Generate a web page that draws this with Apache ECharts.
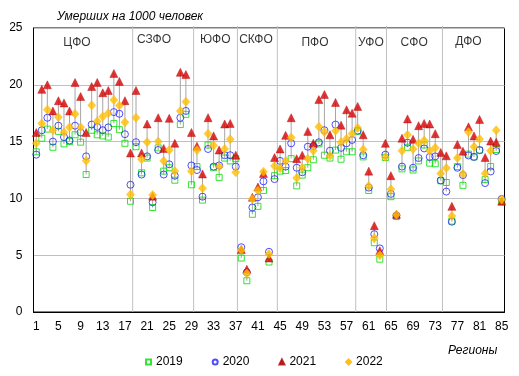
<!DOCTYPE html>
<html><head><meta charset="utf-8">
<script src="https://cdn.jsdelivr.net/npm/echarts@6/dist/echarts.min.js"></script>
<style>html,body{margin:0;padding:0;background:#fff}#c{width:519px;height:376px}</style>
</head><body><div id="c"></div>
<script>
// Mortality per 1000 population, regions 1..85
const y2019 = [14.1,15.3,16.1,14.5,15.9,14.8,15.0,15.6,14.95,12.1,16.0,15.6,15.5,15.4,16.6,16.05,14.85,9.75,
  14.55,12.25,13.55,9.2,14.45,12.4,12.7,11.6,16.5,17.4,11.2,
  12.8,9.85,14.7,12.7,11.85,13.55,13.3,13.5,
  4.75,2.75,8.6,9.3,10.7,4.4,12.0,
  12.4,12.45,13.5,11.1,12.05,12.7,13.4,14.8,13.8,13.55,14.25,13.45,14.1,14.1,
  15.9,13.65,10.7,6.1,4.65,13.6,
  10.15,8.4,12.6,14.5,12.5,13.3,14.7,13.1,13.05,11.55,
  11.4,8.0,12.8,11.15,13.9,13.65,14.25,11.65,12.8,14.3,9.7];
const y2020 = [13.85,16.0,17.1,15.0,16.4,15.4,15.1,16.4,15.8,13.7,16.5,16.3,16.0,16.25,17.6,17.45,15.65,11.2,
  14.95,12.1,13.7,9.65,14.26,12.1,13.0,12.0,17.1,17.7,12.9,
  12.5,10.15,14.35,12.8,12.9,13.8,13.8,12.8,
  5.7,3.5,9.2,10.1,11.5,5.3,11.7,
  13.3,12.8,14.85,12.7,12.3,14.55,14.6,14.94,16.0,14.2,16.5,14.45,14.85,15.15,
  15.97,13.8,10.95,6.85,5.6,13.85,
  10.4,8.5,12.8,14.9,12.7,13.55,14.4,13.65,13.7,11.58,
  10.6,7.95,12.7,12.05,13.78,13.65,14.25,11.35,12.37,14.17,9.95];
const y2021 = [15.8,19.6,20.0,17.7,18.6,18.4,17.7,20.2,18.97,15.8,19.85,20.2,19.3,19.5,21.0,20.3,18.6,14.0,
  19.5,14.0,16.55,10.2,17.1,14.4,17.05,14.85,21.1,20.9,15.8,
  14.6,12.15,17.1,15.5,14.26,16.55,16.6,13.8,
  5.5,3.76,10.1,11.0,12.2,4.75,13.6,
  14.35,15.55,17.1,13.5,13.8,15.9,14.85,18.7,19.15,15.6,18.45,16.45,17.8,17.5,
  18.1,15.6,12.4,7.6,5.4,14.85,
  12.0,8.6,15.3,17.0,15.2,16.4,16.6,16.55,15.7,14.05,
  13.75,9.3,14.75,14.15,16.3,15.5,16.95,13.6,15.05,14.94,9.75];
const y2022 = [14.85,16.6,17.8,16.0,17.15,15.8,16.26,17.44,16.26,13.32,18.2,16.8,17.2,17.5,18.67,18.17,16.7,10.35,
  17.1,13.45,14.95,10.3,15.0,13.3,14.26,12.4,17.7,18.5,12.4,
  14.25,10.9,15.7,14.65,12.8,14.35,15.2,12.3,
  5.45,3.38,9.95,10.7,12.35,5.1,12.85,
  12.65,13.3,15.35,11.8,12.7,13.5,14.2,16.3,15.85,13.75,15.95,14.94,15.25,15.7,
  16.2,14.3,11.1,6.5,5.0,13.65,
  10.8,8.55,14.2,15.6,14.35,14.85,15.1,14.2,14.45,12.2,
  12.67,8.45,13.55,12.15,15.85,14.55,15.22,12.2,14.2,16.0,9.9];

const seriesNames = ['2019','2020','2021','2022'];
const districts = ['ЦФО','СЗФО','ЮФО','СКФО','ПФО','УФО','СФО','ДФО'];
const districtX = [8.35,22.25,33.3,40.65,51.3,61.4,69.2,79.0];
const districtY = [23.73,24.0,24.0,24.0,23.73,23.73,23.73,23.8];
const separators = [18.4,29.4,37.3,44.5,58.65,64.2,74.3];
const regions = y2019.map((_, i) => String(i + 1));

const FONT = '"Liberation Sans", Arial, sans-serif';
const chart = echarts.init(document.getElementById('c'), null, {renderer:'canvas'});

const hiLo = regions.map((r, i) => {
  const v = [y2019[i], y2020[i], y2021[i], y2022[i]];
  return [i, Math.min.apply(null, v), Math.max.apply(null, v)];
});

const option = {
  animation: false,
  backgroundColor: '#fff',
  title: [
    {text: 'Умерших на 1000 человек', left: 57, top: 11, padding: 0,
     textStyle: {fontFamily: FONT, fontSize: 12, fontStyle: 'italic', fontWeight: 'normal', color: '#000'}},
    {text: 'Регионы', left: 448, top: 345, padding: 0,
     textStyle: {fontFamily: FONT, fontSize: 12, fontStyle: 'italic', fontWeight: 'normal', color: '#000'}}
  ],
  legend: {
    data: [{name:'2019', icon:'rect'},{name:'2020', icon:'circle'},{name:'2021', icon:'triangle'},{name:'2022', icon:'diamond'}],
    left: 145, top: 356, itemWidth: 5, itemHeight: 5, itemGap: 29, padding: 0,
    textStyle: {fontFamily: FONT, fontSize: 12, color: '#000'}
  },
  grid: {left: 33.5, right: 14.5, top: 28, bottom: 64, show: true, borderColor: '#000', borderWidth: 1},
  xAxis: [
    {type: 'category', data: regions, boundaryGap: true,
     axisLine: {lineStyle: {color: '#000'}}, axisTick: {show: false},
     axisLabel: {interval: 3, margin: 9, color: '#000', fontSize: 12, fontFamily: FONT},
     splitLine: {show: false}},
    {type: 'value', min: 0.5, max: 85.5, show: false}
  ],
  yAxis: {type: 'value', min: 0, max: 25, interval: 5,
    axisLine: {show: true, lineStyle: {color: '#000'}}, axisTick: {show: false},
    axisLabel: {margin: 11, color: '#000', fontSize: 12, fontFamily: FONT},
    splitLine: {lineStyle: {color: '#c0c0c0', width: 1}}},
  series: [
    {type: 'custom', name: 'sep', xAxisIndex: 1, silent: true, z: 1,
     data: separators.map(x => [x]),
     encode: {x: 0},
     renderItem: (params, api) => {
       const x = api.value(0);
       const p1 = api.coord([x, 0]), p2 = api.coord([x, 25]);
       return {type: 'line', shape: {x1: p1[0], y1: p1[1], x2: p2[0], y2: p2[1] - 2}, style: {stroke: '#c0c0c0', lineWidth: 1}};
     }},
    {type: 'custom', name: 'hilo', xAxisIndex: 0, silent: true, z: 2,
     data: hiLo, encode: {x: 0, y: [1, 2]},
     renderItem: (params, api) => {
       const x = api.value(0);
       const p1 = api.coord([x, api.value(1)]), p2 = api.coord([x, api.value(2)]);
       return {type: 'line', shape: {x1: p1[0], y1: p1[1], x2: p2[0], y2: p2[1]}, style: {stroke: '#a6a6a6', lineWidth: 1}};
     }},
    {type: 'scatter', name: '2019', z: 3, symbol: 'rect', symbolSize: 6, data: y2019,
     itemStyle: {color: 'rgba(255,255,255,0)', borderColor: '#00dd00', borderWidth: 1}},
    {type: 'scatter', name: '2020', z: 3, symbol: 'circle', symbolSize: 7, data: y2020,
     itemStyle: {color: 'rgba(255,255,255,0)', borderColor: '#2222ff', borderWidth: 1}},
    {type: 'scatter', name: '2021', z: 3, symbol: 'triangle', symbolSize: [8, 8], data: y2021,
     itemStyle: {color: '#dd0000', borderColor: '#aa0000', borderWidth: 0.5}},
    {type: 'scatter', name: '2022', z: 3, symbol: 'diamond', symbolSize: [8, 9], data: y2022,
     itemStyle: {color: '#ffc000', borderColor: '#ffb000', borderWidth: 0.5}},
    {type: 'scatter', name: 'districts', xAxisIndex: 1, silent: true, z: 4, symbolSize: 0,
     data: districts.map((d, i) => [districtX[i], districtY[i], d]),
     label: {show: true, position: 'inside', formatter: p => p.data[2], color: '#000', fontSize: 12, fontFamily: FONT}}
  ]
};
chart.setOption(option);
</script>
</body></html>
